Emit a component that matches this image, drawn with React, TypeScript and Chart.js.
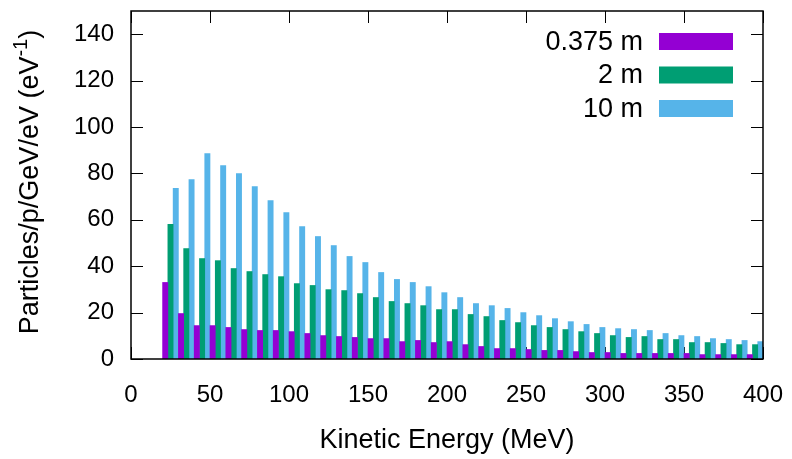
import React, { useEffect, useRef } from "react";
import { Chart, registerables } from "chart.js";

Chart.register(...registerables);

// Bin centres (MeV) — each bin is 10 MeV wide
const energies = [
  25, 35, 45, 55, 65, 75, 85, 95, 105, 115, 125, 135, 145, 155, 165, 175, 185, 195, 205,
  215, 225, 235, 245, 255, 265, 275, 285, 295, 305, 315, 325, 335, 345, 355, 365, 375, 385, 395,
];

const values0375m = [
  33.0, 19.6, 14.4, 14.4, 13.6, 12.7, 12.3, 12.3, 11.8, 11.0, 10.1, 9.7, 9.3, 8.8, 8.8, 7.5, 8.0, 7.1, 7.5,
  6.2, 5.4, 4.5, 4.5, 4.1, 3.7, 3.7, 3.2, 2.8, 2.8, 2.4, 2.4, 2.4, 2.4, 2.4, 1.9, 1.9, 1.9, 1.9,
];

const values2m = [
  58.1, 47.6, 43.3, 42.4, 39.0, 37.7, 36.4, 35.5, 32.5, 31.7, 29.9, 29.5, 28.2, 26.5, 24.8, 23.9, 23.0, 21.3, 21.3,
  19.2, 18.3, 16.6, 15.7, 14.4, 13.6, 12.7, 11.8, 11.0, 10.1, 9.3, 9.7, 8.4, 8.4, 7.1, 7.1, 6.7, 6.2, 6.2,
];

const values10m = [
  73.6, 77.3, 88.5, 83.4, 79.9, 74.3, 68.3, 63.1, 57.1, 52.8, 48.9, 44.2, 41.6, 37.3, 34.3, 33.0, 31.2, 28.6, 26.5,
  23.9, 23.0, 21.8, 20.0, 18.7, 17.4, 16.1, 14.9, 13.6, 13.1, 12.7, 12.3, 11.0, 10.1, 9.7, 8.8, 8.4, 8.0, 7.5,
];

const seriesLabels = ["0.375 m", "2 m", "10 m"];
const seriesColors = ["#9400d3", "#009e73", "#56b4e9"];

const xTitle = "Kinetic Energy (MeV)";
const yTitleMain = "Particles/p/GeV/eV (eV";
const yTitleSup = "-1";
const yTitleEnd = ")";

const FONT = "'Liberation Sans', Arial, Helvetica, sans-serif";

const framePlugin = {
  id: "gnuplotFrame",
  beforeDatasetsDraw(chart: any) {
    const { ctx, chartArea } = chart;
    const { left, right, top, bottom } = chartArea;
    const tl = 12;
    ctx.save();
    ctx.strokeStyle = "#000";
    ctx.lineWidth = 1;
    const xs = chart.scales.x;
    xs.ticks.forEach((t: any) => {
      const px = Math.round(xs.getPixelForValue(t.value)) + 0.5;
      ctx.beginPath();
      ctx.moveTo(px, bottom);
      ctx.lineTo(px, bottom - tl);
      ctx.moveTo(px, top);
      ctx.lineTo(px, top + tl);
      ctx.stroke();
    });
    const ys = chart.scales.y;
    ys.ticks.forEach((t: any) => {
      const py = Math.round(ys.getPixelForValue(t.value)) + 0.5;
      ctx.beginPath();
      ctx.moveTo(left, py);
      ctx.lineTo(left + tl, py);
      ctx.moveTo(right, py);
      ctx.lineTo(right - tl, py);
      ctx.stroke();
    });
    ctx.restore();
  },
  afterDatasetsDraw(chart: any) {
    const { ctx, chartArea } = chart;
    const { left, right, top, bottom } = chartArea;
    ctx.save();
    ctx.strokeStyle = "#000";
    ctx.lineWidth = 1.5;
    ctx.strokeRect(left, top, right - left, bottom - top);
    ctx.restore();
  },
  afterDraw(chart: any) {
    const { ctx, chartArea } = chart;
    ctx.save();
    // Legend (text right-aligned, swatch on the right)
    ctx.font = `27px ${FONT}`;
    ctx.textAlign = "right";
    ctx.textBaseline = "middle";
    const rowY = [41.5, 75, 108.5];
    chart.data.datasets.forEach((ds: any, i: number) => {
      const cy = rowY[i];
      ctx.fillStyle = "#000";
      ctx.fillText(ds.label, 643, cy + 1);
      ctx.fillStyle = ds.backgroundColor;
      ctx.fillRect(659, cy - 8.5, 74, 17);
    });
    // Y axis title with superscript
    const cyMid = (chartArea.top + chartArea.bottom) / 2 - 3;
    ctx.translate(38, cyMid);
    ctx.rotate(-Math.PI / 2);
    ctx.textAlign = "left";
    ctx.textBaseline = "alphabetic";
    ctx.fillStyle = "#000";
    const mainFont = `27px ${FONT}`;
    const supFont = `20px ${FONT}`;
    ctx.font = mainFont;
    const w1 = ctx.measureText(yTitleMain).width;
    const w3 = ctx.measureText(yTitleEnd).width;
    ctx.font = supFont;
    const w2 = ctx.measureText(yTitleSup).width;
    const total = w1 + w2 + w3;
    let x = -total / 2;
    ctx.font = mainFont;
    ctx.fillText(yTitleMain, x, 0);
    x += w1;
    ctx.font = supFont;
    ctx.fillText(yTitleSup, x, -11);
    x += w2;
    ctx.font = mainFont;
    ctx.fillText(yTitleEnd, x, 0);
    ctx.restore();
  },
};

export default function App() {
  const ref = useRef<HTMLCanvasElement>(null);

  useEffect(() => {
    if (!ref.current) return;
    const seriesValues = [values0375m, values2m, values10m];
    const chart = new Chart(ref.current, {
      type: "bar",
      data: {
        datasets: seriesValues.map((vals, i) => ({
          label: seriesLabels[i],
          data: energies.map((e, j) => ({ x: e, y: vals[j] })),
          backgroundColor: seriesColors[i],
          borderWidth: 0,
          barPercentage: 1,
          categoryPercentage: 1,
        })),
      },
      options: {
        responsive: false,
        animation: false,
        events: [],
        layout: { padding: { left: 0, right: 29, top: 11, bottom: 0 } },
        plugins: {
          legend: { display: false },
          tooltip: { enabled: false },
        },
        scales: {
          x: {
            type: "linear",
            min: 0,
            max: 400,
            offset: false,
            grid: { display: false, drawTicks: false },
            border: { display: false },
            ticks: {
              stepSize: 50,
              padding: 22,
              color: "#000",
              maxRotation: 0,
              autoSkip: false,
              font: { family: FONT, size: 24 },
            },
            title: {
              display: true,
              text: xTitle,
              color: "#000",
              font: { family: FONT, size: 27 },
              padding: { top: 0, bottom: 2 },
            },
            afterFit: (s: any) => {
              s.height = 100;
              s.paddingLeft = 0;
              s.paddingRight = 0;
            },
          },
          y: {
            type: "linear",
            min: 0,
            max: 150,
            grid: { display: false, drawTicks: false },
            border: { display: false },
            ticks: {
              stepSize: 20,
              includeBounds: false,
              padding: 17,
              color: "#000",
              font: { family: FONT, size: 24 },
            },
            afterFit: (s: any) => {
              s.width = 131;
              s.paddingTop = 0;
              s.paddingBottom = 0;
            },
          },
        },
      } as any,
      plugins: [framePlugin],
    });
    return () => chart.destroy();
  }, []);

  return (
    <div style={{ position: "fixed", left: 0, top: 0, width: 792, height: 459, background: "#fff" }}>
      <canvas ref={ref} width={792} height={459} style={{ display: "block", width: 792, height: 459 }} />
    </div>
  );
}
